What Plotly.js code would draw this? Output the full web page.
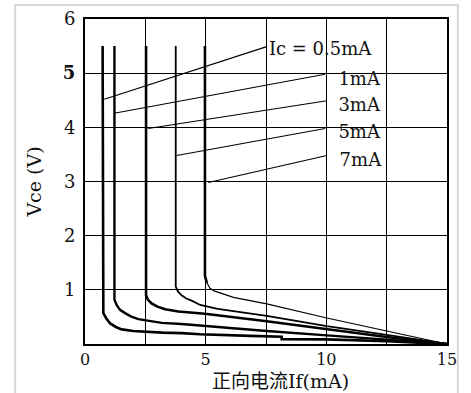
<!DOCTYPE html>
<html>
<head>
<meta charset="utf-8">
<script src="https://cdn.plot.ly/plotly-3.0.1.min.js"></script>
<style>html,body{margin:0;padding:0;background:#fff;}#chart{width:471px;height:393px;}</style>
</head>
<body>
<div id="chart"></div>
<script>
// Curves: forward current If (mA) vs Vce (V) for each Ic
const c1x = [0.73, 0.73, 0.76, 0.9, 1.04, 1.3, 1.52, 2.0, 2.56, 3.2, 4.0, 4.77, 6.84, 8.15, 8.15, 10.0, 12.5, 15];
const c1y = [5.5, 0.7, 0.57, 0.46, 0.38, 0.31, 0.27, 0.24, 0.22, 0.21, 0.2, 0.18, 0.15, 0.135, 0.09, 0.085, 0.05, 0];
const c2x = [1.22, 1.22, 1.31, 1.45, 1.66, 1.9, 2.21, 2.56, 3.18, 4.0, 4.77, 7.53, 10.02, 12.5, 15];
const c2y = [5.5, 0.82, 0.72, 0.63, 0.57, 0.51, 0.46, 0.43, 0.39, 0.37, 0.34, 0.24, 0.16, 0.08, 0];
const c3x = [2.53, 2.53, 2.6, 2.76, 3.0, 3.32, 3.87, 4.5, 4.97, 7.53, 10.02, 12.5, 15];
const c3y = [5.5, 0.9, 0.82, 0.75, 0.69, 0.64, 0.6, 0.58, 0.56, 0.42, 0.27, 0.13, 0];
const c4x = [3.76, 3.76, 3.85, 4.0, 4.2, 4.42, 4.77, 5.5, 7.53, 10.02, 12.5, 15];
const c4y = [5.5, 1.06, 0.97, 0.9, 0.84, 0.8, 0.72, 0.65, 0.52, 0.33, 0.17, 0];
const c5x = [4.97, 4.97, 5.05, 5.18, 5.35, 5.6, 5.9, 6.15, 7.53, 10.02, 12.5, 15];
const c5y = [5.5, 1.26, 1.13, 1.03, 0.98, 0.94, 0.9, 0.86, 0.74, 0.48, 0.24, 0];

// Label pointer lines and labels
const icLabels = ["Ic = 0.5mA", "1mA", "3mA", "5mA", "7mA"];
const ptrX0 = [0.8, 1.21, 2.62, 3.8, 5.11];
const ptrY0 = [4.52, 4.26, 3.98, 3.48, 2.98];
const ptrX1 = [7.53, 9.95, 10.02, 9.95, 10.02];
const ptrY1 = [5.49, 4.98, 4.49, 3.98, 3.48];
const labelX = [7.62, 10.5, 10.5, 10.5, 10.55];
const labelY = [5.42, 4.87, 4.38, 3.88, 3.37];

// Ticks and titles
const xTickVals = [0, 2.5, 5, 7.5, 10, 12.5, 15];
const xTickText = ["0", "", "5", "", "10", "", "15"];
const yTickVals = [0, 1, 2, 3, 4, 5, 6];
const yTickText = ["", "1", "2", "3", "4", "<b>5</b>", "6"];
const xTitle = "正向电流If(mA)";
const yTitle = "Vce (V)";

const SERIF = "DejaVu Serif, Noto Sans CJK SC, serif";
const traces = [];
const curves = [[c1x, c1y], [c2x, c2y], [c3x, c3y], [c4x, c4y]];
const widths = [2.6, 2.4, 2.6, 1.8];
curves.forEach((c, i) => {
  traces.push({x: c[0], y: c[1], mode: "lines", line: {color: "#000", width: widths[i]}, hoverinfo: "skip"});
});
// curve 5: thick vertical part, thin tail
traces.push({x: c5x.slice(0, 3), y: c5y.slice(0, 3), mode: "lines", line: {color: "#000", width: 2.6}, hoverinfo: "skip"});
traces.push({x: c5x.slice(2), y: c5y.slice(2), mode: "lines", line: {color: "#000", width: 1.2}, hoverinfo: "skip"});
for (let i = 0; i < icLabels.length; i++) {
  traces.push({x: [ptrX0[i], ptrX1[i]], y: [ptrY0[i], ptrY1[i]], mode: "lines", line: {color: "#000", width: 1.1}, hoverinfo: "skip"});
}
traces.push({x: labelX, y: labelY, mode: "text", text: icLabels, textposition: "middle right",
  textfont: {family: SERIF, size: 18, color: "#111"}, hoverinfo: "skip"});

const layout = {
  width: 471, height: 393,
  margin: {l: 85, r: 24, t: 19, b: 49},
  paper_bgcolor: "#fff", plot_bgcolor: "#fff",
  showlegend: false,
  font: {family: SERIF, size: 18, color: "#111"},
  xaxis: {
    range: [0, 15], tickvals: xTickVals, ticktext: xTickText,
    showgrid: true, gridcolor: "#000", gridwidth: 1,
    showline: true, linecolor: "#000", linewidth: 2, mirror: true,
    zeroline: false, ticks: "outside", ticklen: 0, tickcolor: "rgba(0,0,0,0)",
    tickfont: {family: SERIF, size: 16, color: "#111"},
    fixedrange: true
  },
  yaxis: {
    range: [0, 6], tickvals: yTickVals, ticktext: yTickText,
    showgrid: true, gridcolor: "#000", gridwidth: 1,
    showline: true, linecolor: "#000", linewidth: 2, mirror: true,
    zeroline: false, ticks: "outside", ticklen: 4, tickcolor: "rgba(0,0,0,0)",
    tickfont: {family: SERIF, size: 18, color: "#111"},
    title: {text: yTitle, font: {family: SERIF, size: 19, color: "#111"}, standoff: 16},
    fixedrange: true
  },
  annotations: [{
    text: xTitle, xref: "paper", yref: "paper", x: 0.541, y: -0.151,
    xanchor: "center", yanchor: "bottom", showarrow: false, borderpad: 0,
    font: {family: SERIF, size: 19, color: "#111"}
  }],
  shapes: [{type: "rect", xref: "paper", yref: "paper", x0: -0.193, x1: 1.030, y0: -0.25, y1: 1.043,
    line: {color: "#d8d8d8", width: 2}, layer: "below"}]
};

Plotly.newPlot("chart", traces, layout, {displayModeBar: false, staticPlot: true});
</script>
</body>
</html>
